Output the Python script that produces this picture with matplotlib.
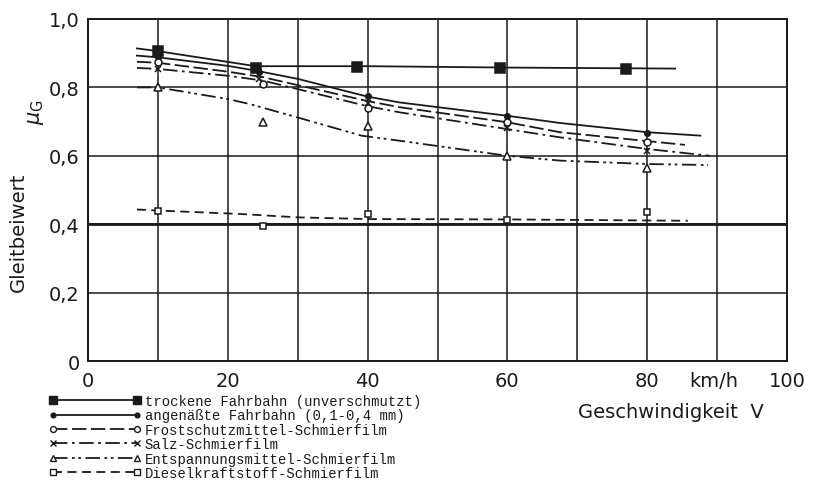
"""
Gleitbeiwert in Abhängigkeit von der Geschwindigkeit
für verschiedene Fahrbahnzustände (Nachbau der Vorlage)
"""

import matplotlib.pyplot as plt
from matplotlib.lines import Line2D

plt.rcParams['font.family'] = ['DejaVu Sans']

INK = '#1a1a1a'

# Messpunkte (Marker) je Fahrbahnzustand
trocken_x = [10, 24, 38.5, 59, 77]
trocken_y = [0.906, 0.857, 0.859, 0.857, 0.854]
nass_x = [10, 24.5, 40, 60, 80]
nass_y = [0.888, 0.845, 0.775, 0.717, 0.667]
frost_x = [10, 25, 40, 60, 80]
frost_y = [0.874, 0.81, 0.74, 0.698, 0.639]
salz_x = [10, 24.5, 40, 60, 80]
salz_y = [0.855, 0.825, 0.755, 0.68, 0.615]
entsp_x = [10, 25, 40, 60, 80]
entsp_y = [0.80, 0.70, 0.688, 0.60, 0.563]
diesel_x = [10, 25, 40, 60, 80]
diesel_y = [0.44, 0.395, 0.43, 0.413, 0.435]

# Ausgleichskurven
trocken_kx = [7, 10, 24, 40, 60, 84]
trocken_ky = [0.914, 0.906, 0.862, 0.862, 0.858, 0.855]
nass_kx = [7, 10, 20, 24, 30, 40, 44.6, 60, 67.5, 80, 87.6]
nass_ky = [0.893, 0.888, 0.863, 0.849, 0.825, 0.773, 0.756, 0.717, 0.696, 0.669, 0.659]
frost_kx = [7, 10, 20, 25, 40, 44.6, 60, 67.5, 80, 85.4]
frost_ky = [0.875, 0.872, 0.846, 0.83, 0.76, 0.742, 0.698, 0.669, 0.643, 0.632]
salz_kx = [7, 10, 20, 25, 40, 44.6, 60, 67.5, 80, 89]
salz_ky = [0.857, 0.854, 0.834, 0.82, 0.745, 0.727, 0.678, 0.654, 0.62, 0.60]
entsp_kx = [7, 10, 20, 23.2, 30, 39.1, 44.6, 60, 67.5, 80, 88.7]
entsp_ky = [0.80, 0.80, 0.766, 0.751, 0.712, 0.659, 0.644, 0.60, 0.586, 0.576, 0.573]
diesel_kx = [7, 10, 21.7, 30, 40, 60, 85.8]
diesel_ky = [0.443, 0.44, 0.43, 0.42, 0.415, 0.414, 0.41]

labels = [
    'trockene Fahrbahn (unverschmutzt)',
    'angenäßte Fahrbahn (0,1-0,4 mm)',
    'Frostschutzmittel-Schmierfilm',
    'Salz-Schmierfilm',
    'Entspannungsmittel-Schmierfilm',
    'Dieselkraftstoff-Schmierfilm',
]

x_ticks = [0, 20, 40, 60, 80, 100]
y_ticks = [0, 0.2, 0.4, 0.6, 0.8, 1.0]
y_ticklabels = ['0', '0,2', '0,4', '0,6', '0,8', '1,0']

fig = plt.figure(figsize=(8.14, 4.81), dpi=100)
ax = fig.add_axes([88 / 814, 1 - 362 / 481, 699 / 814, 342 / 481])

# Gitter
ax.set_xlim(0, 100)
ax.set_ylim(0, 1.0)
ax.set_xticks(x_ticks)
ax.set_xticks(range(0, 101, 10), minor=True)
ax.set_yticks(y_ticks)
ax.set_yticklabels(y_ticklabels)
ax.grid(True, which='both', color=INK, linewidth=1.1)
ax.axhline(0.4, color=INK, linewidth=2.0, zorder=1)
ax.set_axisbelow(True)
for sp in ax.spines.values():
    sp.set_color(INK)
    sp.set_linewidth(1.4)
ax.tick_params(which='both', length=0, labelsize=14, colors=INK)
ax.tick_params(axis='x', pad=7)
ax.tick_params(axis='y', pad=6)

# Stil je Kurve: (Kurve x, Kurve y, Messung x, Messung y, Linienstil, Marker, Größe, gefüllt)
series = [
    (trocken_kx, trocken_ky, trocken_x, trocken_y, '-', 's', 6.5, True),
    (nass_kx, nass_ky, nass_x, nass_y, '-', 'o', 4, True),
    (frost_kx, frost_ky, frost_x, frost_y, (0, (8, 2.5)), 'o', 5, False),
    (salz_kx, salz_ky, salz_x, salz_y, (0, (8, 2.5, 1.5, 2.5)), 'x', 5, False),
    (entsp_kx, entsp_ky, entsp_x, entsp_y, (0, (8, 2.5, 1.5, 2, 1.5, 2.5)), '^', 5.5, False),
    (diesel_kx, diesel_ky, diesel_x, diesel_y, (0, (5, 3)), 's', 5, False),
]

handles = []
for kx, ky, mx, my, ls, mk, ms, filled in series:
    ax.plot(kx, ky, color=INK, linewidth=1.3, linestyle=ls, zorder=3)
    face = INK if filled else 'white'
    ax.plot(mx, my, linestyle='none', marker=mk, markersize=ms,
            markerfacecolor=face, markeredgecolor=INK, markeredgewidth=1.1, zorder=4)
    handles.append(Line2D([], [], color=INK, linewidth=1.3, linestyle=ls, marker=mk,
                          markersize=ms * 0.85, markerfacecolor=face,
                          markeredgecolor=INK, markeredgewidth=1.0))

# Achsbeschriftungen
ax.annotate('km/h', xy=(89.5, 0), xycoords=('data', 'axes fraction'),
            xytext=(0, -7), textcoords='offset points', ha='center', va='top',
            fontsize=14, color=INK)
fig.text(671 / 814, 1 - 413 / 481, 'Geschwindigkeit  V', ha='center', va='center',
         fontsize=14, color=INK)
fig.text(18 / 814, 1 - 232 / 481, 'Gleitbeiwert', rotation=90, ha='center',
         va='center', fontsize=14, color=INK)
fig.text(36 / 814, 1 - 112 / 481, r'$\mu_{\mathrm{G}}$', rotation=90, ha='center',
         va='center', fontsize=15, color=INK)

# Legende unter dem Diagramm
fig.legend(handles, labels, loc='upper left', bbox_to_anchor=(49 / 814, 1 - 395 / 481),
           frameon=False, numpoints=2, handlelength=6.6, handletextpad=0.3,
           labelspacing=0.03, borderpad=0, borderaxespad=0,
           prop={'family': 'Liberation Mono', 'size': 10}, labelcolor=INK)

fig.savefig('out.png', dpi=100)
